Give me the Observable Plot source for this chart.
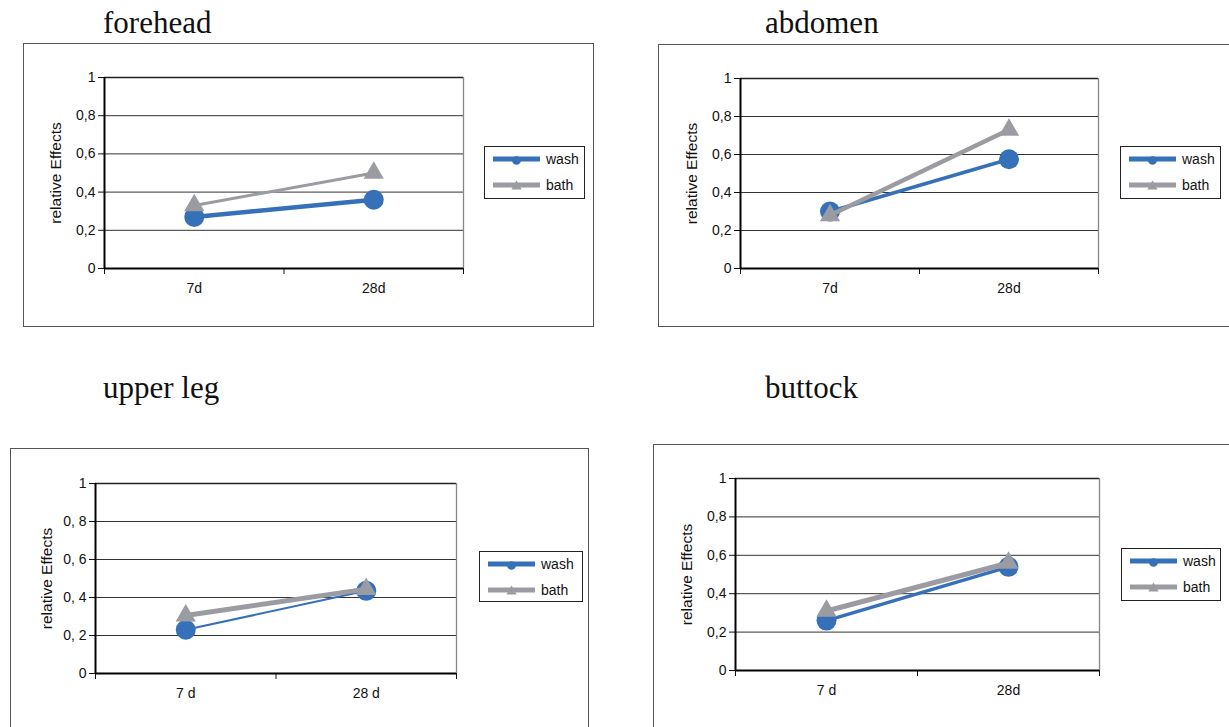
<!DOCTYPE html>
<html>
<head>
<meta charset="utf-8">
<script src="https://cdn.jsdelivr.net/npm/d3@7"></script>
<script src="https://cdn.jsdelivr.net/npm/@observablehq/plot@0.6"></script>
<style>
  html, body { margin: 0; padding: 0; background: #fff; }
  body { position: relative; width: 1229px; height: 727px; overflow: hidden;
         font-family: "Liberation Sans", Arial, sans-serif; }
  .title { position: absolute; font-family: "Liberation Serif", "Times New Roman", serif;
           font-size: 31px; line-height: 31px; color: #111; white-space: nowrap; }
  .frame { position: absolute; box-sizing: border-box; border: 1.5px solid #555; }
  .chart { position: absolute; }
  .legend { position: absolute; box-sizing: border-box; border: 1.5px solid #222; background: #fff; }
  .legend svg { position: absolute; left: -1.5px; top: -1.5px; overflow: visible; }
</style>
</head>
<body>
<script>
// Relative effects of washing vs. bathing at 7 and 28 days, per body site
const days = ["7d", "28d"];
const sites = ["forehead", "abdomen", "upper leg", "buttock"];
const seriesNames = ["wash", "bath"];
const washValues = [
  [0.27, 0.36],
  [0.30, 0.575],
  [0.23, 0.435],
  [0.26, 0.54]
];
const bathValues = [
  [0.33, 0.50],
  [0.28, 0.73],
  [0.305, 0.444],
  [0.31, 0.56]
];
const yTicks = [0, 0.2, 0.4, 0.6, 0.8, 1];
const yTickLabels = [
  ["0", "0,2", "0,4", "0,6", "0,8", "1"],
  ["0", "0,2", "0,4", "0,6", "0,8", "1"],
  ["0", "0, 2", "0, 4", "0, 6", "0, 8", "1"],
  ["0", "0,2", "0,4", "0,6", "0,8", "1"]
];
const xTickLabels = [
  ["7d", "28d"],
  ["7d", "28d"],
  ["7 d", "28 d"],
  ["7  d", "28d"]
];
const yLabel = "relative Effects";

// Panel geometry (page pixels) and line weights
const BLUE = "#3570b8";
const GRAY = "#9a9ca1";
const layout = [
  {title: [103, 33],  frame: [23, 43, 594, 327],   plot: [104, 77, 463, 268],  legend: [484, 146, 585, 199],  washW: 4.5, bathW: 3},
  {title: [765, 33],  frame: [658, 44, 1232, 327], plot: [740, 78, 1098, 268], legend: [1120, 146, 1221, 199], washW: 3.5, bathW: 4.5},
  {title: [103, 398], frame: [10, 448, 589, 745],  plot: [95, 483, 456, 673],  legend: [479, 551, 583, 602],  washW: 2,   bathW: 5},
  {title: [765, 398], frame: [653, 444, 1232, 745], plot: [735, 478, 1099, 670], legend: [1121, 548, 1221, 601], washW: 3.5, bathW: 5}
];

const body = d3.select("body");

sites.forEach((site, k) => {
  const L = layout[k];
  const [fx0, fy0, fx1, fy1] = L.frame;
  const [px0, py0, px1, py1] = L.plot;
  const W = fx1 - fx0, H = fy1 - fy0;

  // title (baseline at L.title[1])
  body.append("div").attr("class", "title")
    .style("left", L.title[0] + "px")
    .style("top", (L.title[1] - 26) + "px")
    .text(site);

  // outer chart border
  body.append("div").attr("class", "frame")
    .style("left", fx0 + "px").style("top", fy0 + "px")
    .style("width", W + "px").style("height", H + "px");

  const wash = days.map((d, i) => ({series: seriesNames[0], pos: i + 0.5, value: washValues[k][i]}));
  const bath = days.map((d, i) => ({series: seriesNames[1], pos: i + 0.5, value: bathValues[k][i]}));
  const yl = yTickLabels[k];
  const xl = xTickLabels[k];

  const chart = Plot.plot({
    width: W,
    height: H,
    marginLeft: px0 - fx0,
    marginRight: fx1 - px1,
    marginTop: py0 - fy0,
    marginBottom: fy1 - py1,
    x: {domain: [0, days.length], axis: null},
    y: {domain: [0, 1], axis: null},
    style: {fontFamily: "'Liberation Sans', Arial, sans-serif", color: "#111", background: "transparent", overflow: "visible"},
    marks: [
      Plot.gridY({ticks: yTicks.slice(1, -1), stroke: "#333", strokeOpacity: 1, strokeWidth: 1}),
      Plot.ruleY([1], {stroke: "#222", strokeWidth: 1.3}),
      Plot.ruleX([days.length], {stroke: "#888", strokeWidth: 1.3}),
      Plot.axisY({ticks: yTicks, tickFormat: d => yl[yTicks.indexOf(d)], tickSize: 6, tickPadding: 3,
                  fontSize: 14, label: null, stroke: "#111"}),
      Plot.axisY({ticks: [], label: yLabel, labelAnchor: "center", labelOffset: 55, labelArrow: "none",
                  fontSize: 15.5}),
      Plot.axisX({ticks: d3.range(days.length + 1), tickFormat: () => "", tickSize: 6, label: null, stroke: "#111"}),
      Plot.axisX({ticks: days.map((d, i) => i + 0.5), tickFormat: d => xl[Math.floor(d)], tickSize: 0,
                  tickPadding: 15, fontSize: 14, label: null}),
      Plot.ruleX([0], {stroke: "#000", strokeWidth: 2}),
      Plot.ruleY([0], {stroke: "#000", strokeWidth: 2}),
      Plot.line(wash, {x: "pos", y: "value", stroke: BLUE, strokeWidth: L.washW}),
      Plot.dot(wash, {x: "pos", y: "value", symbol: "circle", r: 10, fill: BLUE, stroke: "none"}),
      Plot.line(bath, {x: "pos", y: "value", stroke: GRAY, strokeWidth: L.bathW}),
      Plot.dot(bath, {x: "pos", y: "value", symbol: "triangle", r: 7.5, fill: GRAY, stroke: "none"})
    ]
  });
  d3.select(chart).attr("class", "chart")
    .style("left", fx0 + "px").style("top", fy0 + "px");
  document.body.appendChild(chart);

  // legend box
  const [lx0, ly0, lx1, ly1] = L.legend;
  const lw = lx1 - lx0, lh = ly1 - ly0;
  const leg = body.append("div").attr("class", "legend")
    .style("left", lx0 + "px").style("top", ly0 + "px")
    .style("width", lw + "px").style("height", lh + "px");
  const ls = leg.append("svg").attr("width", lw).attr("height", lh);
  const rows = [
    {name: seriesNames[0], color: BLUE, symbol: d3.symbolCircle, size: 60},
    {name: seriesNames[1], color: GRAY, symbol: d3.symbolTriangle, size: 45}
  ];
  rows.forEach((r, j) => {
    const cy = 13 + j * 26;
    ls.append("line").attr("x1", 9).attr("x2", 56).attr("y1", cy).attr("y2", cy)
      .attr("stroke", r.color).attr("stroke-width", 5);
    ls.append("path").attr("d", d3.symbol(r.symbol, r.size)())
      .attr("transform", `translate(32.5,${cy + 1.5})`).attr("fill", r.color);
    ls.append("text").attr("x", 62).attr("y", cy + 5)
      .attr("font-family", "'Liberation Sans', Arial, sans-serif").attr("font-size", 14)
      .attr("fill", "#111").text(r.name);
  });
});
</script>
</body>
</html>
